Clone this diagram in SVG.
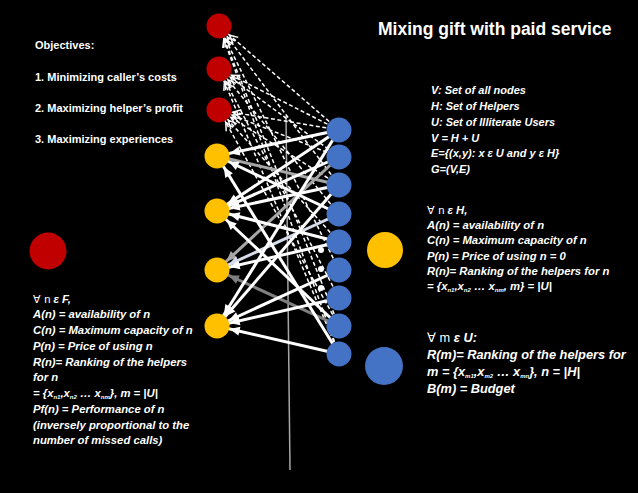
<svg xmlns="http://www.w3.org/2000/svg" width="638" height="493" viewBox="0 0 638 493">
<style>
.t{font-family:"Liberation Sans",Arial,sans-serif;fill:#fff;font-weight:bold}
.bi{font-style:italic}
.sym{font-weight:normal;font-style:normal}
.sub{font-size:6px}
.d{stroke:#fff;stroke-width:1.5;stroke-dasharray:4 2.5;fill:none;marker-end:url(#ao)}
.w{stroke:#fff;stroke-width:3;marker-end:url(#aw)}
.g{stroke:#a6a6a6;stroke-width:3;marker-end:url(#ag)}
.dg{stroke:#7f7f7f;stroke-width:3;marker-end:url(#adg)}
.lg{stroke:#d6dcea;stroke-width:3;marker-end:url(#alg)}
.red{fill:#c00000}
.yel{fill:#ffc000}
.blu{fill:#4472c4}
</style>
<defs>
<marker id="aw" markerUnits="userSpaceOnUse" markerWidth="10" markerHeight="9" refX="23" refY="4.5" orient="auto" overflow="visible"><path d="M0,0 L10,4.5 L0,9 z" fill="#fff"/></marker>
<marker id="ag" markerUnits="userSpaceOnUse" markerWidth="10" markerHeight="9" refX="23" refY="4.5" orient="auto" overflow="visible"><path d="M0,0 L10,4.5 L0,9 z" fill="#a6a6a6"/></marker>
<marker id="adg" markerUnits="userSpaceOnUse" markerWidth="10" markerHeight="9" refX="23" refY="4.5" orient="auto" overflow="visible"><path d="M0,0 L10,4.5 L0,9 z" fill="#7f7f7f"/></marker>
<marker id="alg" markerUnits="userSpaceOnUse" markerWidth="10" markerHeight="9" refX="23" refY="4.5" orient="auto" overflow="visible"><path d="M0,0 L10,4.5 L0,9 z" fill="#d6dcea"/></marker>
<marker id="ao" markerUnits="userSpaceOnUse" markerWidth="8" markerHeight="8" refX="22" refY="4" orient="auto" overflow="visible"><path d="M0,0 L8,4 L0,8" fill="none" stroke="#fff" stroke-width="1.5"/></marker>
</defs>
<rect width="638" height="493" fill="#000"/>

<g id="connectors">
<line x1="286" y1="116" x2="290" y2="470" stroke="#a6a6a6" stroke-width="1.5"/>
<!-- dashed to red -->
<line class="d" x1="339" y1="130" x2="219" y2="26"/>
<line class="d" x1="339" y1="185" x2="219" y2="26"/>
<line class="d" x1="339" y1="270" x2="219" y2="26"/>
<line class="d" x1="339" y1="326" x2="219" y2="26"/>
<line class="d" x1="339" y1="354" x2="219" y2="26"/>
<line class="d" x1="339" y1="130" x2="219" y2="69"/>
<line class="d" x1="339" y1="157" x2="219" y2="69"/>
<line class="d" x1="339" y1="214" x2="219" y2="69"/>
<line class="d" x1="339" y1="298" x2="219" y2="69"/>
<line class="d" x1="339" y1="354" x2="219" y2="69"/>
<line class="d" x1="339" y1="130" x2="219" y2="110"/>
<line class="d" x1="339" y1="157" x2="219" y2="110"/>
<line class="d" x1="339" y1="185" x2="219" y2="110"/>
<line class="d" x1="339" y1="242" x2="219" y2="110"/>
<line class="d" x1="339" y1="326" x2="219" y2="110"/>
<!-- solid to yellow -->
<line x1="217" y1="156" x2="339" y2="185" stroke="#a6a6a6" stroke-width="3"/>
<line class="g" x1="339" y1="157" x2="217" y2="270"/>
<line class="dg" x1="339" y1="326" x2="217" y2="270"/>
<line class="lg" x1="339" y1="214" x2="217" y2="270"/>
<line class="w" x1="339" y1="130" x2="217" y2="156" stroke-width="4"/>
<line class="w" x1="339" y1="130" x2="217" y2="211"/>
<line class="w" x1="339" y1="130" x2="217" y2="326"/>
<line class="w" x1="339" y1="157" x2="217" y2="211"/>
<line class="w" x1="339" y1="185" x2="217" y2="211"/>
<line class="w" x1="339" y1="185" x2="217" y2="326"/>
<line class="w" x1="339" y1="214" x2="217" y2="156"/>
<line class="w" x1="339" y1="242" x2="217" y2="211"/>
<line class="w" x1="339" y1="242" x2="217" y2="270"/>
<line class="w" x1="339" y1="270" x2="217" y2="326"/>
<line class="w" x1="339" y1="298" x2="217" y2="326"/>
<line class="w" x1="339" y1="326" x2="217" y2="211"/>
<line class="w" x1="339" y1="354" x2="217" y2="156"/>
<line class="w" x1="339" y1="354" x2="217" y2="326"/>
</g>

<g id="red1"><circle class="red" cx="219" cy="26" r="12.5"/></g>
<g id="red2"><circle class="red" cx="219" cy="69" r="12.5"/></g>
<g id="red3"><circle class="red" cx="219" cy="110" r="12.5"/></g>
<g id="yellow1"><circle class="yel" cx="217" cy="156" r="12.5"/></g>
<g id="yellow2"><circle class="yel" cx="217" cy="211" r="12.5"/></g>
<g id="yellow3"><circle class="yel" cx="217" cy="270" r="12.5"/></g>
<g id="yellow4"><circle class="yel" cx="217" cy="326" r="12.5"/></g>
<g id="blue1"><circle class="blu" cx="339" cy="130" r="12.5"/></g>
<g id="blue2"><circle class="blu" cx="339" cy="157" r="12.5"/></g>
<g id="blue3"><circle class="blu" cx="339" cy="185" r="12.5"/></g>
<g id="blue4"><circle class="blu" cx="339" cy="214" r="12.5"/></g>
<g id="blue5"><circle class="blu" cx="339" cy="242" r="12.5"/></g>
<g id="blue6"><circle class="blu" cx="339" cy="270" r="12.5"/></g>
<g id="blue7"><circle class="blu" cx="339" cy="298" r="12.5"/></g>
<g id="blue8"><circle class="blu" cx="339" cy="326" r="12.5"/></g>
<g id="blue9"><circle class="blu" cx="339" cy="354" r="12.5"/></g>
<g id="ellipsis"><circle cx="321" cy="250" r="3" fill="#fff"/><circle cx="321" cy="269" r="3" fill="#fff"/><circle cx="321" cy="288" r="3" fill="#fff"/></g>

<g id="legend-red"><circle class="red" cx="48" cy="251" r="18.5"/></g>
<g id="legend-yellow"><circle class="yel" cx="385" cy="250" r="18"/></g>
<g id="legend-blue"><circle class="blu" cx="384" cy="366" r="19"/></g>

<text class="t" x="378" y="35" font-size="17.5">Mixing gift with paid service</text>

<g class="t" font-size="11">
<text x="35" y="49">Objectives:</text>
<text x="35" y="81">1. Minimizing caller’s costs</text>
<text x="35" y="112">2. Maximizing helper’s profit</text>
<text x="35" y="143">3. Maximizing experiences</text>
</g>

<g class="t bi" font-size="11">
<text x="431" y="94">V: Set of all nodes</text>
<text x="431" y="110">H: Set of Helpers</text>
<text x="431" y="126">U: Set of Illiterate Users</text>
<text x="431" y="142">V = H + U</text>
<text x="431" y="157">E={(x,y): x ε U and y ε H}</text>
<text x="431" y="173">G=(V,E)</text>
</g>

<g class="t bi" font-size="11.3">
<text x="427" y="214"><tspan class="sym">∀ n </tspan>ε H,</text>
<text x="427" y="229">A(n) = availability of n</text>
<text x="427" y="244">C(n) = Maximum capacity of n</text>
<text x="427" y="260">P(n) = Price of using n = 0</text>
<text x="427" y="275">R(n)= Ranking of the helpers for n</text>
<text x="427" y="290">= {x<tspan class="sub" dy="2">n1</tspan><tspan dy="-2">,x</tspan><tspan class="sub" dy="2">n2</tspan><tspan dy="-2"> … x</tspan><tspan class="sub" dy="2">nm</tspan><tspan dy="-2">, m} = |U|</tspan></text>
</g>

<g class="t bi" font-size="12.8">
<text x="427" y="342"><tspan class="sym">∀ m </tspan>ε U:</text>
<text x="427" y="359">R(m)= Ranking of the helpers for</text>
<text x="427" y="376">m = {x<tspan class="sub" dy="2" font-size="7">m1</tspan><tspan dy="-2">,x</tspan><tspan class="sub" dy="2" font-size="7">m2</tspan><tspan dy="-2"> … x</tspan><tspan class="sub" dy="2" font-size="7">mn</tspan><tspan dy="-2">}, n = |H|</tspan></text>
<text x="427" y="393">B(m) = Budget</text>
</g>

<g class="t bi" font-size="11.3">
<text x="33" y="303"><tspan class="sym">∀ n </tspan>ε F,</text>
<text x="33" y="318">A(n) = availability of n</text>
<text x="33" y="334">C(n) = Maximum capacity of n</text>
<text x="33" y="350">P(n) = Price of using n</text>
<text x="33" y="366">R(n)= Ranking of the helpers</text>
<text x="33" y="381">for n</text>
<text x="33" y="397">= {x<tspan class="sub" dy="2">n1</tspan><tspan dy="-2">,x</tspan><tspan class="sub" dy="2">n2</tspan><tspan dy="-2"> … x</tspan><tspan class="sub" dy="2">nm</tspan><tspan dy="-2">}, m = |U|</tspan></text>
<text x="33" y="413">Pf(n) = Performance of n</text>
<text x="33" y="429">(inversely proportional to the</text>
<text x="33" y="444">number of missed calls)</text>
</g>
</svg>
